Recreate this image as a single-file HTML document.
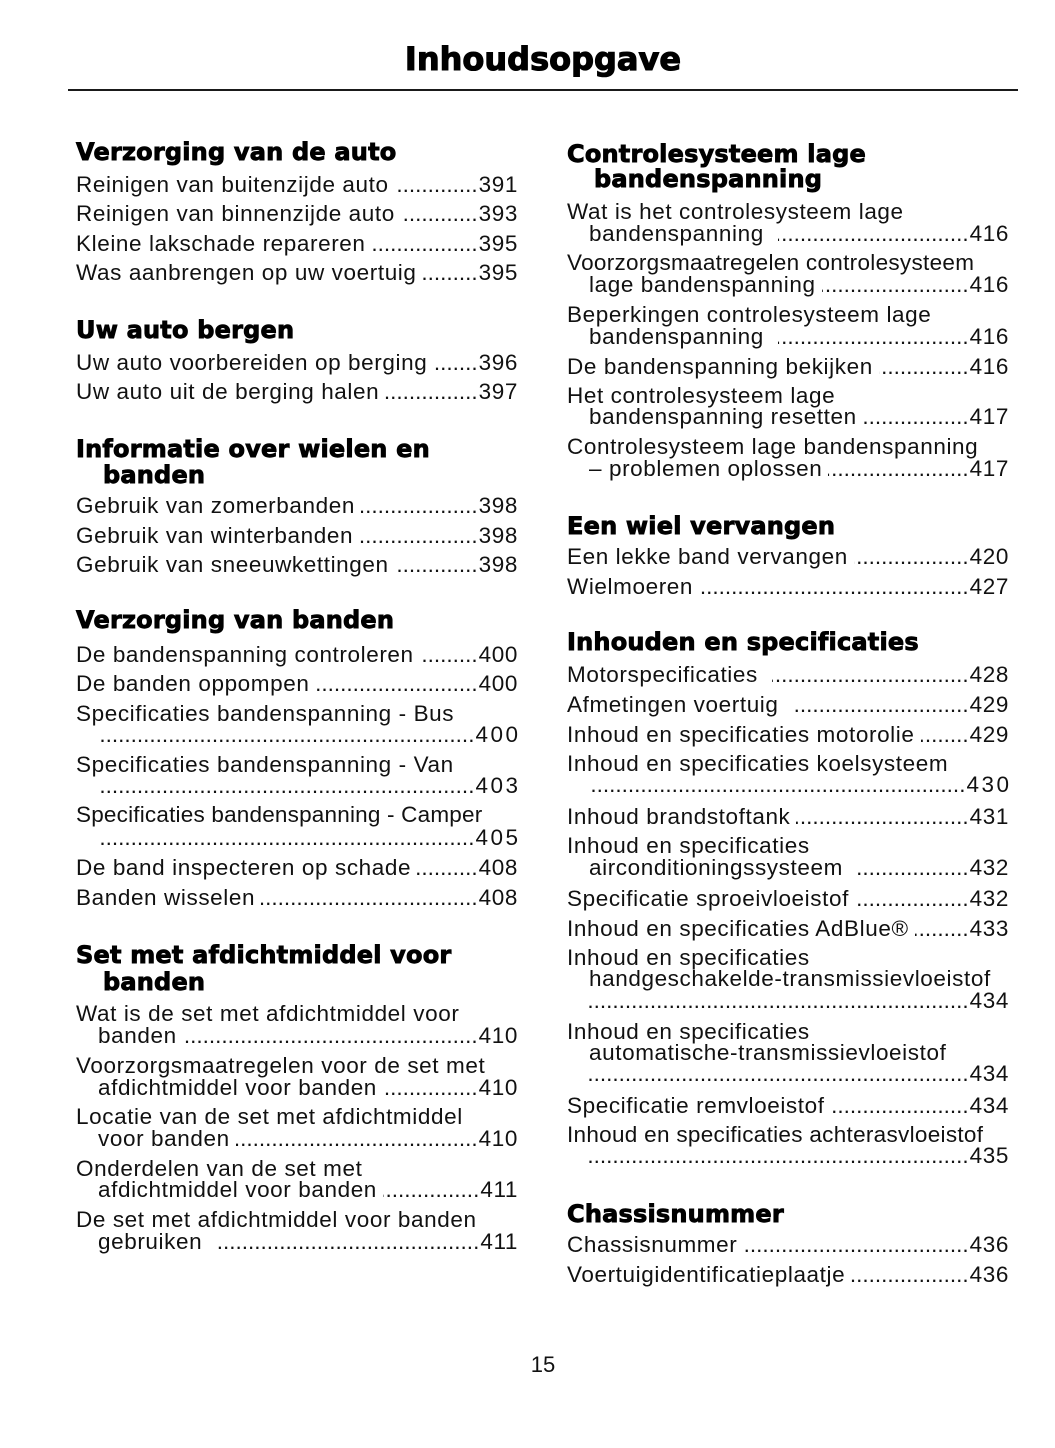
<!DOCTYPE html>
<html>
<head>
<meta charset="utf-8">
<style>
  html,body{margin:0;padding:0;}
  body{width:1055px;height:1448px;background:#fff;position:relative;overflow:hidden;color:#111;}
  .title{position:absolute;left:0;width:1086px;top:40px;text-align:center;font:bold 32px/38px "DejaVu Sans",sans-serif;color:#000;white-space:nowrap;-webkit-text-stroke:1.1px #000;}
  .rule{position:absolute;left:68px;width:950px;top:89px;height:2px;background:#1a1a1a;}
  .l{position:absolute;white-space:nowrap;font:22.5px/26px "Liberation Sans",sans-serif;letter-spacing:0.6px;height:26px;}
  .h{position:absolute;white-space:nowrap;font:bold 24px/28px "DejaVu Sans",sans-serif;letter-spacing:0.2px;color:#000;height:28px;-webkit-text-stroke:0.9px #000;}
  .e{display:flex;}
  .e .t{flex:none;}
  .e .d{flex:1 1 auto;overflow:hidden;direction:rtl;margin-left:6px;margin-right:1px;letter-spacing:0;min-width:0;}
  .e .d.g{margin-left:14px;}
  .e .d.z{margin-left:0;}
  .e .d::after{content:"........................................................................................................";}
  .e .n{flex:none;}
  .e .n.w{letter-spacing:2.5px;margin-right:-2.5px;}
  .L{left:76px;width:442px;}
  .Lc{left:98px;width:420px;}
  .Lh{left:76px;}
  .Lhc{left:103px;}
  .R{left:567px;width:442px;}
  .Rc{left:589px;width:420px;}
  .Rh{left:567px;}
  .Rhc{left:594px;}
  .pg{position:absolute;left:0;width:1086px;text-align:center;top:1352px;font:22px/26px "Liberation Sans",sans-serif;}
</style>
</head>
<body>
<div class="title">Inhoudsopgave</div>
<div class="rule"></div>

<!-- LEFT COLUMN -->
<div class="h Lh" style="top:138px">Verzorging van de auto</div>
<div class="l e L" style="top:172px"><span class="t">Reinigen van buitenzijde auto</span><span class="d"></span><span class="n">391</span></div>
<div class="l e L" style="top:201px"><span class="t">Reinigen van binnenzijde auto</span><span class="d"></span><span class="n">393</span></div>
<div class="l e L" style="top:231px"><span class="t">Kleine lakschade repareren</span><span class="d"></span><span class="n">395</span></div>
<div class="l e L" style="top:260px"><span class="t">Was aanbrengen op uw voertuig</span><span class="d"></span><span class="n">395</span></div>

<div class="h Lh" style="top:316px">Uw auto bergen</div>
<div class="l e L" style="top:350px"><span class="t">Uw auto voorbereiden op berging</span><span class="d"></span><span class="n">396</span></div>
<div class="l e L" style="top:379px"><span class="t">Uw auto uit de berging halen</span><span class="d"></span><span class="n">397</span></div>

<div class="h Lh" style="top:435px">Informatie over wielen en</div>
<div class="h Lhc" style="top:461px">banden</div>
<div class="l e L" style="top:493px"><span class="t">Gebruik van zomerbanden</span><span class="d"></span><span class="n">398</span></div>
<div class="l e L" style="top:523px"><span class="t">Gebruik van winterbanden</span><span class="d"></span><span class="n">398</span></div>
<div class="l e L" style="top:552px"><span class="t">Gebruik van sneeuwkettingen</span><span class="d"></span><span class="n">398</span></div>

<div class="h Lh" style="top:606px">Verzorging van banden</div>
<div class="l e L" style="top:642px"><span class="t">De bandenspanning controleren</span><span class="d"></span><span class="n">400</span></div>
<div class="l e L" style="top:671px"><span class="t">De banden oppompen</span><span class="d"></span><span class="n">400</span></div>
<div class="l L" style="top:701px">Specificaties bandenspanning - Bus</div>
<div class="l e Lc" style="top:722px"><span class="t"></span><span class="d z"></span><span class="n w">400</span></div>
<div class="l L" style="top:752px">Specificaties bandenspanning - Van</div>
<div class="l e Lc" style="top:773px"><span class="t"></span><span class="d z"></span><span class="n w">403</span></div>
<div class="l L" style="top:802px;letter-spacing:0.2px">Specificaties bandenspanning - Camper</div>
<div class="l e Lc" style="top:825px"><span class="t"></span><span class="d z"></span><span class="n w">405</span></div>
<div class="l e L" style="top:855px"><span class="t">De band inspecteren op schade</span><span class="d"></span><span class="n">408</span></div>
<div class="l e L" style="top:885px"><span class="t">Banden wisselen</span><span class="d"></span><span class="n">408</span></div>

<div class="h Lh" style="top:941px">Set met afdichtmiddel voor</div>
<div class="h Lhc" style="top:968px">banden</div>
<div class="l L" style="top:1001px">Wat is de set met afdichtmiddel voor</div>
<div class="l e Lc" style="top:1023px"><span class="t">banden</span><span class="d"></span><span class="n">410</span></div>
<div class="l L" style="top:1053px">Voorzorgsmaatregelen voor de set met</div>
<div class="l e Lc" style="top:1075px"><span class="t">afdichtmiddel voor banden</span><span class="d"></span><span class="n">410</span></div>
<div class="l L" style="top:1104px">Locatie van de set met afdichtmiddel</div>
<div class="l e Lc" style="top:1126px"><span class="t">voor banden</span><span class="d"></span><span class="n">410</span></div>
<div class="l L" style="top:1156px">Onderdelen van de set met</div>
<div class="l e Lc" style="top:1177px"><span class="t">afdichtmiddel voor banden</span><span class="d"></span><span class="n">411</span></div>
<div class="l L" style="top:1207px">De set met afdichtmiddel voor banden</div>
<div class="l e Lc" style="top:1229px"><span class="t">gebruiken</span><span class="d g"></span><span class="n">411</span></div>

<!-- RIGHT COLUMN -->
<div class="h Rh" style="top:140px">Controlesysteem lage</div>
<div class="h Rhc" style="top:165px">bandenspanning</div>
<div class="l R" style="top:199px">Wat is het controlesysteem lage</div>
<div class="l e Rc" style="top:221px"><span class="t">bandenspanning</span><span class="d g"></span><span class="n">416</span></div>
<div class="l R" style="top:250px;letter-spacing:0.3px">Voorzorgsmaatregelen controlesysteem</div>
<div class="l e Rc" style="top:272px"><span class="t">lage bandenspanning</span><span class="d"></span><span class="n">416</span></div>
<div class="l R" style="top:302px">Beperkingen controlesysteem lage</div>
<div class="l e Rc" style="top:324px"><span class="t">bandenspanning</span><span class="d g"></span><span class="n">416</span></div>
<div class="l e R" style="top:354px"><span class="t">De bandenspanning bekijken</span><span class="d"></span><span class="n">416</span></div>
<div class="l R" style="top:383px">Het controlesysteem lage</div>
<div class="l e Rc" style="top:404px"><span class="t">bandenspanning resetten</span><span class="d"></span><span class="n">417</span></div>
<div class="l R" style="top:434px">Controlesysteem lage bandenspanning</div>
<div class="l e Rc" style="top:456px"><span class="t">– problemen oplossen</span><span class="d"></span><span class="n">417</span></div>

<div class="h Rh" style="top:512px">Een wiel vervangen</div>
<div class="l e R" style="top:544px"><span class="t">Een lekke band vervangen</span><span class="d"></span><span class="n">420</span></div>
<div class="l e R" style="top:574px"><span class="t">Wielmoeren</span><span class="d"></span><span class="n">427</span></div>

<div class="h Rh" style="top:628px">Inhouden en specificaties</div>
<div class="l e R" style="top:662px"><span class="t">Motorspecificaties</span><span class="d g"></span><span class="n">428</span></div>
<div class="l e R" style="top:692px"><span class="t">Afmetingen voertuig</span><span class="d g"></span><span class="n">429</span></div>
<div class="l e R" style="top:722px"><span class="t">Inhoud en specificaties motorolie</span><span class="d"></span><span class="n">429</span></div>
<div class="l R" style="top:751px">Inhoud en specificaties koelsysteem</div>
<div class="l e Rc" style="top:772px"><span class="t"></span><span class="d z"></span><span class="n w">430</span></div>
<div class="l e R" style="top:804px"><span class="t">Inhoud brandstoftank</span><span class="d"></span><span class="n">431</span></div>
<div class="l R" style="top:833px">Inhoud en specificaties</div>
<div class="l e Rc" style="top:855px"><span class="t">airconditioningssysteem</span><span class="d g"></span><span class="n">432</span></div>
<div class="l e R" style="top:886px"><span class="t">Specificatie sproeivloeistof</span><span class="d"></span><span class="n">432</span></div>
<div class="l e R" style="top:916px"><span class="t">Inhoud en specificaties AdBlue®</span><span class="d"></span><span class="n">433</span></div>
<div class="l R" style="top:945px">Inhoud en specificaties</div>
<div class="l Rc" style="top:966px">handgeschakelde-transmissievloeistof</div>
<div class="l e Rc" style="top:988px"><span class="t"></span><span class="d z"></span><span class="n">434</span></div>
<div class="l R" style="top:1019px">Inhoud en specificaties</div>
<div class="l Rc" style="top:1040px">automatische-transmissievloeistof</div>
<div class="l e Rc" style="top:1061px"><span class="t"></span><span class="d z"></span><span class="n">434</span></div>
<div class="l e R" style="top:1093px"><span class="t">Specificatie remvloeistof</span><span class="d"></span><span class="n">434</span></div>
<div class="l R" style="top:1122px;letter-spacing:0.3px">Inhoud en specificaties achterasvloeistof</div>
<div class="l e Rc" style="top:1143px"><span class="t"></span><span class="d z"></span><span class="n">435</span></div>

<div class="h Rh" style="top:1200px">Chassisnummer</div>
<div class="l e R" style="top:1232px"><span class="t">Chassisnummer</span><span class="d"></span><span class="n">436</span></div>
<div class="l e R" style="top:1262px"><span class="t">Voertuigidentificatieplaatje</span><span class="d"></span><span class="n">436</span></div>

<div class="pg">15</div>
</body>
</html>
